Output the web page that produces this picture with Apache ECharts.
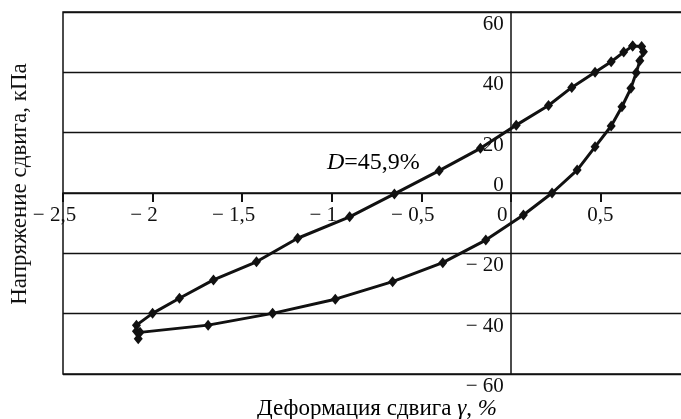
<!DOCTYPE html>
<html>
<head>
<meta charset="utf-8">
<script src="https://cdn.jsdelivr.net/npm/echarts@6/dist/echarts.min.js"></script>
<style>
  html, body { margin: 0; padding: 0; background: #fff; }
  #chart { width: 681px; height: 419px; }
</style>
</head>
<body>
<div id="chart"></div>
<script>
// Hysteresis loop of one loading cycle, traced in order around the loop
const strainPct = [0.68, 0.63, 0.56, 0.47, 0.34, 0.21, 0.03, -0.17, -0.40, -0.65,
  -0.90, -1.19, -1.42, -1.66, -1.85, -2.00, -2.09, -2.09, -2.08, -2.07,
  -1.69, -1.33, -0.98, -0.66, -0.38, -0.14, 0.07, 0.23, 0.37, 0.47,
  0.56, 0.62, 0.67, 0.70, 0.72, 0.74, 0.73, 0.68];
const stressKPa = [48.7, 46.7, 43.5, 40.0, 35.0, 29.0, 22.5, 14.8, 7.4, -0.3,
  -7.9, -15.0, -22.8, -28.8, -34.9, -39.9, -43.8, -45.8, -48.3, -46.2,
  -43.8, -39.9, -35.2, -29.4, -23.1, -15.6, -7.3, 0.0, 7.6, 15.3,
  22.2, 28.6, 34.7, 39.9, 43.8, 46.8, 48.6, 48.7];

const xTicks = { min: -2.5, max: 1, step: 0.5 };
const yTicks = { min: -60, max: 60, step: 20 };

const xTitle = 'Деформация сдвига ';
const yTitle = 'Напряжение сдвига, кПа';
const dampingLabel = '=45,9%';

const FONT = '"Liberation Serif", "Times New Roman", serif';
const INK = '#111';
const GRID = { left: 63, top: 12, width: 627, height: 362 };

function fmtNum(v) {
  const s = String(Math.abs(v)).replace('.', ',');
  return v < 0 ? '\u2212 ' + s : s;
}

const chart = echarts.init(document.getElementById('chart'), null, { renderer: 'canvas' });

chart.setOption({
  animation: false,
  backgroundColor: '#fff',
  grid: {
    left: GRID.left, top: GRID.top, width: GRID.width, height: GRID.height,
    outerBoundsMode: 'none',
    show: true, borderColor: INK, borderWidth: 1.5
  },
  xAxis: {
    type: 'value',
    min: xTicks.min, max: xTicks.max, interval: xTicks.step,
    axisLine: { onZero: false, lineStyle: { color: INK, width: 1.5 } },
    axisTick: { show: true, interval: 0, length: 9, lineStyle: { color: INK, width: 2 } },
    splitLine: { show: true, lineStyle: { color: 'rgba(0,0,0,0)' } },
    axisLabel: {
      margin: 12,
      fontFamily: FONT, fontSize: 21, color: INK,
      formatter: v => (v <= 0 ? '{s|' + fmtNum(v) + '}' : '{p|' + fmtNum(v) + '}'),
      rich: {
        s: { fontFamily: FONT, fontSize: 21, color: INK, padding: [0, 17, 0, 0] },
        p: { fontFamily: FONT, fontSize: 21, color: INK }
      }
    }
  },
  yAxis: {
    type: 'value',
    min: yTicks.min, max: yTicks.max, interval: yTicks.step,
    axisLine: { onZero: false, lineStyle: { color: INK, width: 1.5 } },
    axisTick: { show: true, length: 0 },
    splitLine: { show: true, lineStyle: { color: INK, width: 1.3 } },
    axisLabel: {
      margin: 7,
      fontFamily: FONT, fontSize: 21, color: INK,
      formatter: v => (v === 0 ? '{z|0}' : '{d|' + fmtNum(v) + '}'),
      rich: {
        d: { fontFamily: FONT, fontSize: 21, color: INK, padding: [25, 0, 0, 0] },
        z: { fontFamily: FONT, fontSize: 21, color: INK, padding: [0, 0, 16, 0] }
      }
    }
  },
  series: [{
    type: 'line',
    data: strainPct.map((x, i) => [x, stressKPa[i]]),
    symbol: 'diamond',
    symbolSize: [9, 11],
    showAllSymbol: true,
    lineStyle: { color: INK, width: 3 },
    itemStyle: { color: INK }
  }],
  graphic: [
    {
      type: 'text',
      x: 20, y: 184, rotation: Math.PI / 2,
      style: {
        text: yTitle, fill: INK, font: '23px ' + FONT,
        textAlign: 'center', textVerticalAlign: 'middle'
      }
    },
    {
      type: 'text',
      x: 377, y: 409,
      style: {
        text: '{a|' + xTitle + '}{g|γ}{a|, }{i|%}',
        textAlign: 'center', textVerticalAlign: 'middle',
        rich: {
          a: { fontFamily: FONT, fontSize: 23, color: INK },
          g: { fontFamily: FONT, fontSize: 23, fontStyle: 'italic', color: INK },
          i: { fontFamily: FONT, fontSize: 23, fontStyle: 'italic', color: INK }
        }
      }
    },
    {
      type: 'text',
      x: 327, y: 163,
      style: {
        text: '{i|D}{a|' + dampingLabel + '}',
        textAlign: 'left', textVerticalAlign: 'middle',
        rich: {
          i: { fontFamily: FONT, fontSize: 24, fontStyle: 'italic', color: INK },
          a: { fontFamily: FONT, fontSize: 24, color: INK }
        }
      }
    }
  ]
});

// Both axes cross at the origin: shift each axis onto the other's zero value
const zeroX = chart.convertToPixel({ xAxisIndex: 0 }, 0);
const zeroY = chart.convertToPixel({ yAxisIndex: 0 }, 0);
chart.setOption({
  xAxis: { offset: -(GRID.top + GRID.height - zeroY) },
  yAxis: { offset: -(zeroX - GRID.left) }
});
</script>
</body>
</html>
